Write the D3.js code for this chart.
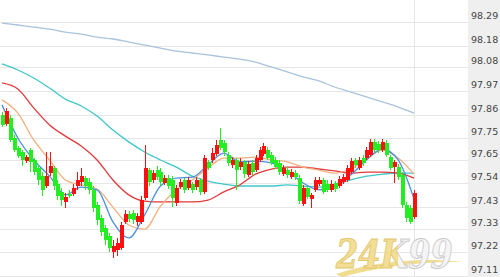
<!DOCTYPE html>
<html>
<head>
<meta charset="utf-8" />
<title>K线</title>
<script src="https://cdn.jsdelivr.net/npm/d3@7/dist/d3.min.js"></script>
<style>
  html, body { margin: 0; padding: 0; background: #fff; }
  svg { display: block; }
</style>
</head>
<body>
<script>
// price axis labels (right side)
var tickLabels = ["98.29","98.18","98.08","97.97","97.86","97.75","97.65","97.54","97.43","97.33","97.22","97.11"];

// candles
var opens = [97.858,97.816,97.844,97.751,97.705,97.686,97.644,97.695,97.649,97.612,
  97.574,97.528,97.588,97.612,97.537,97.501,97.454,97.491,97.491,97.528,
  97.547,97.565,97.547,97.510,97.440,97.380,97.333,97.296,97.222,97.231,
  97.240,97.361,97.398,97.403,97.361,97.361,97.473,97.602,97.556,97.602,
  97.593,97.542,97.565,97.556,97.449,97.523,97.556,97.519,97.537,97.523,
  97.556,97.501,97.640,97.649,97.676,97.742,97.728,97.672,97.626,97.649,
  97.616,97.640,97.579,97.635,97.602,97.649,97.676,97.695,97.672,97.649,
  97.635,97.583,97.602,97.569,97.588,97.565,97.444,97.519,97.468,97.510,
  97.537,97.556,97.537,97.510,97.542,97.528,97.547,97.556,97.593,97.649,
  97.612,97.658,97.658,97.672,97.733,97.723,97.695,97.728,97.662,97.616,
  97.616,97.579,97.440,97.426,97.384];
var highs = [97.872,97.891,97.858,97.765,97.714,97.695,97.672,97.705,97.658,97.626,
  97.593,97.686,97.686,97.621,97.556,97.519,97.496,97.510,97.537,97.593,
  97.612,97.574,97.565,97.528,97.454,97.394,97.347,97.310,97.277,97.287,
  97.361,97.417,97.412,97.417,97.403,97.482,97.719,97.612,97.602,97.621,
  97.612,97.579,97.579,97.574,97.533,97.560,97.565,97.569,97.547,97.569,
  97.565,97.672,97.649,97.705,97.742,97.798,97.742,97.686,97.662,97.658,
  97.658,97.649,97.644,97.649,97.672,97.709,97.728,97.709,97.686,97.662,
  97.649,97.626,97.616,97.607,97.602,97.579,97.533,97.528,97.496,97.569,
  97.569,97.565,97.556,97.556,97.551,97.574,97.583,97.626,97.658,97.658,
  97.662,97.672,97.709,97.746,97.746,97.737,97.746,97.742,97.672,97.649,
  97.630,97.593,97.454,97.440,97.510];
var lows = [97.802,97.807,97.733,97.686,97.658,97.621,97.635,97.593,97.579,97.533,
  97.482,97.519,97.574,97.510,97.463,97.435,97.426,97.473,97.482,97.510,
  97.528,97.510,97.491,97.408,97.347,97.296,97.254,97.222,97.194,97.203,
  97.231,97.351,97.361,97.351,97.342,97.351,97.463,97.528,97.542,97.556,
  97.528,97.533,97.514,97.430,97.435,97.514,97.496,97.510,97.496,97.510,
  97.487,97.491,97.602,97.635,97.667,97.695,97.667,97.621,97.612,97.510,
  97.602,97.565,97.569,97.579,97.593,97.640,97.667,97.649,97.626,97.607,
  97.579,97.574,97.565,97.560,97.556,97.444,97.435,97.468,97.426,97.501,
  97.528,97.491,97.501,97.501,97.501,97.519,97.537,97.547,97.583,97.612,
  97.602,97.621,97.649,97.662,97.686,97.681,97.686,97.662,97.602,97.542,
  97.556,97.426,97.361,97.351,97.375];
var closes = [97.812,97.876,97.742,97.695,97.667,97.649,97.662,97.640,97.593,97.556,
  97.510,97.574,97.621,97.528,97.482,97.463,97.477,97.482,97.519,97.556,
  97.574,97.528,97.510,97.426,97.370,97.315,97.277,97.240,97.249,97.263,
  97.347,97.398,97.375,97.370,97.389,97.463,97.612,97.547,97.588,97.569,
  97.547,97.565,97.528,97.473,97.519,97.547,97.510,97.556,97.510,97.556,
  97.501,97.658,97.612,97.681,97.719,97.705,97.686,97.635,97.649,97.602,
  97.640,97.583,97.630,97.593,97.658,97.695,97.714,97.658,97.635,97.616,
  97.593,97.612,97.579,97.593,97.569,97.458,97.519,97.477,97.487,97.556,
  97.556,97.501,97.510,97.537,97.514,97.560,97.569,97.612,97.644,97.626,
  97.649,97.635,97.695,97.733,97.695,97.695,97.733,97.672,97.612,97.640,
  97.569,97.440,97.380,97.361,97.496];

// moving averages, sampled every 4 candles
var maIndex = [0,4,8,12,16,20,24,28,32,36,40,44,48,52,56,60,64,68,72,76,80,84,88,92,96,100,104];
var ma5   = [97.905,97.751,97.649,97.574,97.487,97.523,97.510,97.361,97.287,97.394,97.528,97.565,97.569,97.626,97.681,97.640,97.644,97.635,97.598,97.542,97.510,97.533,97.579,97.649,97.700,97.649,97.468];
var ma10  = [97.928,97.867,97.742,97.649,97.556,97.533,97.514,97.430,97.347,97.328,97.435,97.510,97.556,97.612,97.658,97.658,97.662,97.649,97.640,97.616,97.602,97.588,97.607,97.653,97.695,97.658,97.583];
var ma30  = [98.007,97.979,97.891,97.812,97.760,97.714,97.649,97.556,97.487,97.458,97.454,97.454,97.454,97.463,97.501,97.533,97.583,97.607,97.616,97.616,97.607,97.598,97.588,97.593,97.593,97.588,97.565];
var ma60  = [98.095,98.067,98.030,97.983,97.932,97.900,97.853,97.788,97.733,97.686,97.649,97.616,97.574,97.551,97.537,97.528,97.528,97.528,97.533,97.528,97.523,97.533,97.556,97.574,97.583,97.588,97.588];
var ma120 = [98.285,98.276,98.266,98.257,98.243,98.234,98.220,98.211,98.197,98.183,98.169,98.155,98.146,98.137,98.127,98.118,98.104,98.081,98.058,98.035,98.016,97.988,97.965,97.942,97.919,97.895,97.867];

var width = 500, height = 277;
var axisX = 468;
var svg = d3.select('body').append('svg').attr('width', width).attr('height', height);

var x = d3.scaleLinear().domain([0, closes.length - 1]).range([2, 414]);
var y = d3.scaleLinear().domain([98.29, 97.11]).range([22, 276]);
var tickVals = tickLabels.map(Number);

// right price panel
svg.append('rect').attr('x', axisX).attr('y', 0).attr('width', width - axisX).attr('height', height).attr('fill', '#efefef');

// grid
svg.append('g').selectAll('line').data(tickVals).enter().append('line')
  .attr('x1', 0).attr('x2', axisX)
  .attr('y1', function(d){ return Math.round(y(d)) + 0.5; })
  .attr('y2', function(d){ return Math.round(y(d)) + 0.5; })
  .attr('stroke', '#e6e6e6');
svg.append('line').attr('x1', Math.round(x(closes.length - 1)) + 0.5).attr('x2', Math.round(x(closes.length - 1)) + 0.5)
  .attr('y1', 0).attr('y2', height).attr('stroke', '#e6e6e6');

// watermark: one text, gold for "24K" and silver for "99", squeezed sideways
var defs = svg.append('defs');
function splitGrad(id, a, b) {
  var gr = defs.append('linearGradient').attr('id', id).attr('gradientUnits', 'userSpaceOnUse')
    .attr('x1', 0).attr('y1', 0).attr('x2', 140).attr('y2', 0);
  gr.append('stop').attr('offset', '0.55').attr('stop-color', a);
  gr.append('stop').attr('offset', '0.55').attr('stop-color', b);
}
splitGrad('wmFill', '#f1dc8a', '#f5f5f5');
splitGrad('wmLine', '#dfc062', '#c4c4c4');
var wm = svg.append('g').attr('opacity', 0.9);
wm.append('path').attr('d', 'M336,274 C372,262 420,257 462,262 C425,261 382,266 342,277 Z').attr('fill', '#f0da84');
wm.append('text').attr('transform', 'translate(336,268) scale(0.8,1)').text('24K99')
  .attr('font-family', 'DejaVu Serif, serif').attr('font-style', 'italic').attr('font-weight', 'bold')
  .attr('font-size', 40)
  .attr('fill', 'url(#wmFill)').attr('stroke', 'url(#wmLine)').attr('stroke-width', 1);

// moving average lines
var maList = [
  {v: ma120, c: '#a9c3dc'},
  {v: ma60, c: '#3fc6c9'},
  {v: ma30, c: '#e2393b'},
  {v: ma10, c: '#f1b07e'},
  {v: ma5,  c: '#4b8ee0'}
];
var line = d3.line().curve(d3.curveMonotoneX)
  .x(function(d, i){ return x(maIndex[i]); })
  .y(function(d){ return y(d); });
svg.append('g').selectAll('path').data(maList).enter().append('path')
  .attr('d', function(d){ return line(d.v); })
  .attr('fill', 'none')
  .attr('stroke', function(d){ return d.c; })
  .attr('stroke-width', 1.3);

// candles
var bw = 4;
var candles = closes.map(function(c, i){ return {i: i, o: opens[i], h: highs[i], l: lows[i], c: c}; });
var color = function(d){ return d.c >= d.o ? '#ff1010' : '#22ee22'; };
var g = svg.append('g').attr('shape-rendering', 'crispEdges');
g.selectAll('.wick').data(candles).enter().append('line')
  .attr('class', 'wick')
  .attr('x1', function(d){ return Math.round(x(d.i)) + 0.5; })
  .attr('x2', function(d){ return Math.round(x(d.i)) + 0.5; })
  .attr('y1', function(d){ return y(d.h); })
  .attr('y2', function(d){ return y(d.l); })
  .attr('stroke', color);
g.selectAll('.body').data(candles).enter().append('rect')
  .attr('class', 'body')
  .attr('x', function(d){ return Math.round(x(d.i)) - 1; })
  .attr('y', function(d){ return y(Math.max(d.o, d.c)); })
  .attr('width', bw)
  .attr('height', function(d){ return Math.max(1, Math.abs(y(d.o) - y(d.c))); })
  .attr('fill', color);

// price labels
svg.append('g').selectAll('text').data(tickLabels).enter().append('text')
  .attr('x', axisX + 3)
  .attr('y', function(d){ return Math.round(y(+d)) - 3; })
  .attr('font-family', 'DejaVu Sans, Verdana, sans-serif')
  .attr('font-size', 9.5)
  .attr('fill', '#444')
  .text(function(d){ return d; });
</script>
</body>
</html>
